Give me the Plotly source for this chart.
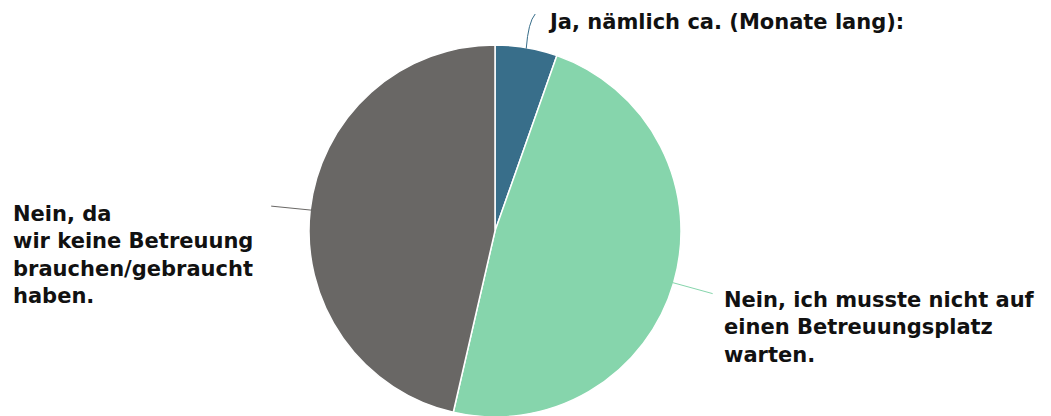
import math
import plotly.graph_objects as go

labels = [
    "Ja, nämlich ca. (Monate lang):",
    "Nein, ich musste nicht auf<br>einen Betreuungsplatz<br>warten.",
    "Nein, da<br>wir keine Betreuung<br>brauchen/gebraucht<br>haben.",
]
values = [5.4, 48.2, 46.4]
colors = ["#386e8a", "#86d5ac", "#696765"]

W, H = 1051, 416
OFF = 8  # Seitenrand des Browsers
cx, cy, r = 495, 231, 185  # Pixel (Zielbild)


def px(x):
    return (x - OFF) / W


def py(y):
    return 1 - (y - OFF) / H


fig = go.Figure()
fig.add_trace(go.Pie(
    labels=labels,
    values=values,
    sort=False,
    direction="clockwise",
    rotation=0,
    marker=dict(colors=colors, line=dict(color="white", width=1.5)),
    textinfo="none",
    hoverinfo="label+percent",
    showlegend=False,
    domain=dict(x=[px(cx - r - 1), px(cx + r + 1)], y=[py(cy + r + 1), py(cy - r - 1)]),
))

# Mittelwinkel der Segmente (im Uhrzeigersinn ab 12 Uhr)
total = sum(values)
mids = []
acc = 0
for v in values:
    mids.append((acc + v / 2) / total * 2 * math.pi)
    acc += v


def edge(a, extra=0):
    return cx + (r + extra) * math.sin(a), cy - (r + extra) * math.cos(a)


shapes = []
# Ja: gebogene Linie nach oben
x0, y0 = edge(mids[0])
shapes.append(dict(type="path", xref="paper", yref="paper",
                   path=f"M {px(x0)},{py(y0)} Q {px(x0 + 2)},{py(22)} {px(x0 + 9)},{py(14)}",
                   line=dict(color=colors[0], width=1)))
# Nein (warten): Linie nach rechts
x0, y0 = edge(mids[1])
shapes.append(dict(type="line", xref="paper", yref="paper",
                   x0=px(x0), y0=py(y0), x1=px(x0 + 40), y1=py(y0 + 11),
                   line=dict(color=colors[1], width=1)))
# Nein (keine Betreuung): Linie nach links
x0, y0 = edge(mids[2])
shapes.append(dict(type="line", xref="paper", yref="paper",
                   x0=px(x0), y0=py(y0), x1=px(x0 - 40), y1=py(y0 - 4),
                   line=dict(color=colors[2], width=1)))

font = dict(family="DejaVu Sans", size=21, color="#111111")
annotations = [
    dict(text="<b>" + labels[0] + "</b>", x=px(546), y=py(22), xanchor="left", yanchor="middle"),
    dict(text="<b>" + labels[1] + "</b>", x=px(722), y=py(327), xanchor="left", yanchor="middle",
         align="left"),
    dict(text="<b>" + labels[2] + "</b>", x=px(11), y=py(255), xanchor="left", yanchor="middle",
         align="left"),
]
for a in annotations:
    a.update(xref="paper", yref="paper", showarrow=False, font=font)

fig.update_layout(
    width=W, height=H,
    margin=dict(l=0, r=0, t=0, b=0),
    paper_bgcolor="white",
    plot_bgcolor="white",
    shapes=shapes,
    annotations=annotations,
)

fig.write_html("out.html")
